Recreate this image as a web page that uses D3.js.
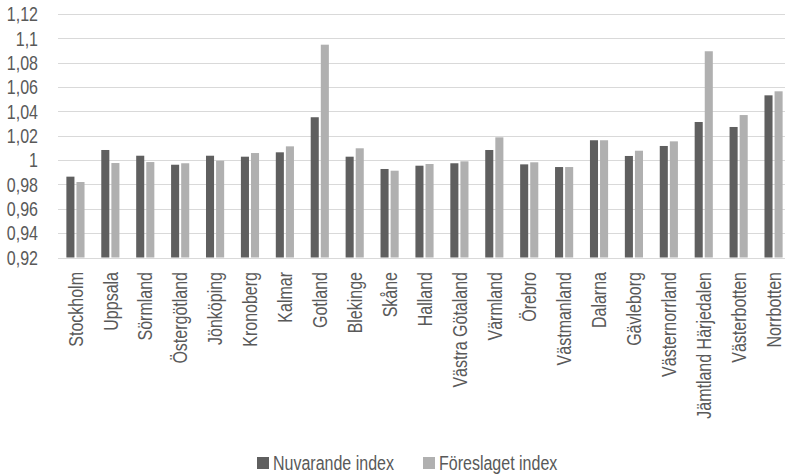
<!DOCTYPE html>
<html>
<head>
<meta charset="utf-8">
<script src="https://cdn.jsdelivr.net/npm/d3@7"></script>
<style>
  body { margin: 0; background: #fff; }
  svg text { font-family: "Liberation Sans", Arial, sans-serif; fill: #595959; }
</style>
</head>
<body>
<svg id="chart" width="785" height="476"></svg>
<script>
// lan (counties) and the two index series
const regions = ["Stockholm", "Uppsala", "Sörmland", "Östergötland", "Jönköping", "Kronoberg",
  "Kalmar", "Gotland", "Blekinge", "Skåne", "Halland", "Västra Götaland", "Värmland", "Örebro",
  "Västmanland", "Dalarna", "Gävleborg", "Västernorrland", "Jämtland Härjedalen", "Västerbotten", "Norrbotten"];

const nuvarande = [0.9864, 1.0083, 1.0036, 0.9962, 1.0036, 1.0028,
  1.0064, 1.0352, 1.0028, 0.9927, 0.9954, 0.9974, 1.0083, 0.9965,
  0.9943, 1.0163, 1.0034, 1.0116, 1.0313, 1.0272, 1.0532];

const foreslaget = [0.982, 0.9976, 0.9984, 0.9974, 0.9995, 1.0058,
  1.0113, 1.0948, 1.0097, 0.9913, 0.9968, 0.999, 1.0187, 0.9982,
  0.9943, 1.0163, 1.0077, 1.0154, 1.0894, 1.037, 1.0565];

const seriesNames = ["Nuvarande index", "Föreslaget index"];
const seriesColors = ["#5f5f5f", "#b0b0b0"];
const yTicks = [0.92, 0.94, 0.96, 0.98, 1, 1.02, 1.04, 1.06, 1.08, 1.1, 1.12];

const svg = d3.select("#chart");

const plot = { left: 58, right: 791, top: 14, bottom: 257.5 };
const squeeze = 0.8; // no narrow font installed, so squash the text horizontally

const x0 = d3.scaleBand()
  .domain(regions)
  .range([plot.left, plot.right])
  .paddingInner(0.48)
  .paddingOuter(0.24);

const x1 = d3.scaleBand()
  .domain(seriesNames)
  .range([0, x0.bandwidth()])
  .paddingInner(0.2);

const y = d3.scaleLinear()
  .domain([0.92, 1.12])
  .range([plot.bottom, plot.top]);

const fmt = d => String(+d.toFixed(2)).replace(".", ",");

// gridlines
svg.append("g")
  .selectAll("line")
  .data(yTicks)
  .join("line")
  .attr("x1", plot.left)
  .attr("x2", 785)
  .attr("y1", d => Math.round(y(d)) + 0.5)
  .attr("y2", d => Math.round(y(d)) + 0.5)
  .attr("stroke", "#d9d9d9")
  .attr("stroke-width", 1);

// y labels
svg.append("g")
  .selectAll("text")
  .data(yTicks)
  .join("text")
  .attr("transform", d => `translate(38,${y(d)}) scale(${squeeze},1)`)
  .attr("dy", "0.36em")
  .attr("text-anchor", "end")
  .style("font-size", "20px")
  .text(fmt);

// bars
const rows = regions.map((r, i) => ({ region: r, values: [nuvarande[i], foreslaget[i]] }));

const groups = svg.append("g")
  .selectAll("g")
  .data(rows)
  .join("g")
  .attr("transform", d => `translate(${x0(d.region)},0)`);

groups.selectAll("rect")
  .data(d => d.values.map((v, k) => ({ key: seriesNames[k], value: v, k })))
  .join("rect")
  .attr("x", d => x1(d.key))
  .attr("width", x1.bandwidth())
  .attr("y", d => y(d.value))
  .attr("height", d => y(0.92) - y(d.value))
  .attr("fill", d => seriesColors[d.k]);

// x labels, rotated
svg.append("g")
  .selectAll("text")
  .data(regions)
  .join("text")
  .attr("transform", d => `translate(${x0(d) + x0.bandwidth() / 2},272) rotate(-90) scale(${squeeze},1)`)
  .attr("dy", "0.36em")
  .attr("text-anchor", "end")
  .style("font-size", "20px")
  .text(d => d);

// legend
const legendX = [257, 423];
const legend = svg.append("g")
  .selectAll("g")
  .data(seriesNames)
  .join("g")
  .attr("transform", (d, i) => `translate(${legendX[i]},457)`);

legend.append("rect")
  .attr("width", 12)
  .attr("height", 12)
  .attr("fill", (d, i) => seriesColors[i]);

legend.append("text")
  .attr("transform", `translate(16,13) scale(${squeeze},1)`)
  .style("font-size", "20px")
  .text(d => d);
</script>
</body>
</html>
